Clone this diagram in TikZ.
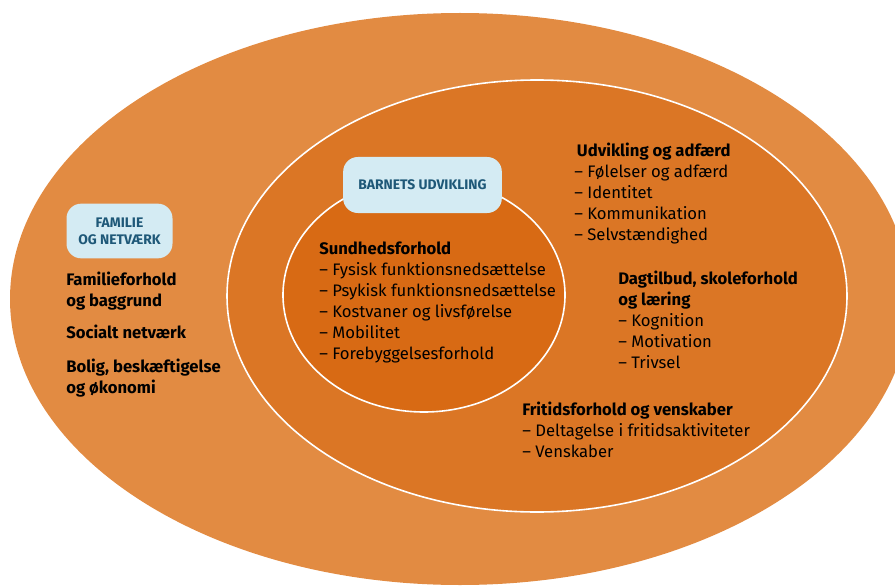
\documentclass[tikz,border=0pt]{standalone}
\usepackage{fontspec}
\setmainfont{Fira Sans}
\usetikzlibrary{positioning}
\definecolor{outerorange}{RGB}{226,139,66}
\definecolor{midorange}{RGB}{219,118,37}
\definecolor{innerorange}{RGB}{216,106,20}
\definecolor{boxblue}{RGB}{212,235,243}
\definecolor{textblue}{RGB}{30,88,120}
\begin{document}
\begin{tikzpicture}[x=0.75pt,y=0.75pt,font=\fontsize{12.5}{15.75}\selectfont,line join=round,line cap=round]
	\tikzset{labelbox/.style={fill=boxblue,rounded corners=11pt,text=textblue,align=center,inner sep=0pt,font=\fontsize{10.4}{12.75}\selectfont\bfseries},
		itemlist/.style={anchor=north west,inner sep=0pt,align=left},
		ring/.style={draw=white,line width=1.2pt}}
	\useasboundingbox (0,0) rectangle (895,-588);
	% rings
	\begin{scope}
		\clip (0,0) rectangle (895,-588);
		\fill[outerorange] (460,-299) ellipse [x radius=450, y radius=286];
	\end{scope}
	\fill[midorange,ring] (537,-296) ellipse [x radius=310, y radius=216];
	\fill[innerorange,ring] (424,-295) ellipse [x radius=141, y radius=117];
	% label boxes
	\node[labelbox,minimum width=119pt,minimum height=42pt] (barn) at (422.5,-185) {BARNETS UDVIKLING};
	\node[labelbox,minimum width=79.5pt,minimum height=41pt] (familie) at (119.5,-231) {FAMILIE\\OG NETVÆRK};
	% outer ring
	\node[itemlist] (famforhold) at (66,-272) {\bfseries Familieforhold\\\bfseries og baggrund};
	\node[itemlist] (social) at (66,-325) {\bfseries Socialt netværk};
	\node[itemlist] (bolig) at (66,-359) {\bfseries Bolig, beskæftigelse\\\bfseries og økonomi};
	% inner ring
	\node[itemlist] (sundhed) at (319,-242) {\bfseries Sundhedsforhold\\
		– Fysisk funktionsnedsættelse\\
		– Psykisk funktionsnedsættelse\\
		– Kostvaner og livsførelse\\
		– Mobilitet\\
		– Forebyggelsesforhold};
	% middle ring
	\node[itemlist] (udvikling) at (574,-143) {\bfseries\hspace{2pt}Udvikling og adfærd\\
		– Følelser og adfærd\\
		– Identitet\\
		– Kommunikation\\
		– Selvstændighed};
	\node[itemlist] (dagtilbud) at (618,-271) {\bfseries Dagtilbud, skoleforhold\\
		\bfseries og læring\\
		– Kognition\\
		– Motivation\\
		– Trivsel};
	\node[itemlist] (fritid) at (522,-402) {\bfseries Fritidsforhold og venskaber\\
		– Deltagelse i fritidsaktiviteter\\
		– Venskaber};
\end{tikzpicture}
\end{document}
